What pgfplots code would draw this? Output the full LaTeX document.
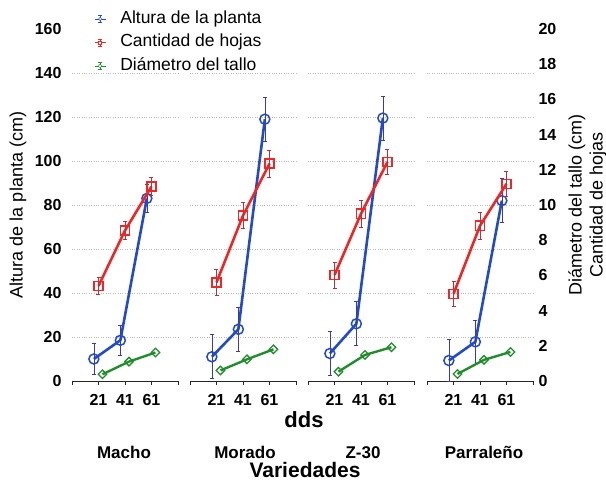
\documentclass[border=0pt]{standalone}
\usepackage{fontspec}
\setmainfont{Liberation Sans}
\usepackage{pgfplots}
\pgfplotsset{compat=1.18}
\definecolor{cblue}{RGB}{35,75,200}
\definecolor{cbluee}{RGB}{60,60,160}
\definecolor{cred}{RGB}{238,38,38}
\definecolor{crede}{RGB}{185,45,60}
\definecolor{cgreen}{RGB}{35,140,45}
\pgfplotsset{
  panel/.style={scale only axis, width=106pt, height=352pt, xmin=1, xmax=81,
    anchor=south west, clip=false,
    /pgf/number format/assume math mode=true},
  leftscale/.style={panel, ymin=0, ymax=160,
    axis x line*=bottom, axis y line*=left,
    y axis line style={draw=none},
    x axis line style={line width=0.8pt, black!85},
    xtick={1,21,41,61,81}, xticklabels={,21,41,61,},
    ytick={0,20,...,160}, minor ytick={20,40,...,140},
    yminorgrids, minor grid style={gray!55, dotted, line width=0.6pt},
    ytick style={draw=none}, minor tick length=0pt,
    xtick style={black!85, line width=0.8pt}, major tick length=4pt, tick align=outside,
    ticklabel style={font=\bfseries\fontsize{16}{16}\selectfont},
    xticklabel style={yshift=-6pt},
    yticklabels={}},
  rightscale/.style={panel, ymin=0, ymax=20, hide axis},
  bluep/.style={color=cblue, line width=2.6pt, mark=o, mark size=5pt,
    mark options={line width=1.5pt, fill=white, solid},
    error bars/.cd, y dir=both, y explicit,
    error bar style={line width=0.6pt, color=cbluee},
    error mark options={rotate=90, line width=0.6pt, mark size=2pt, color=cbluee}},
  redp/.style={color=cred, line width=2.6pt, mark=square, mark size=4.6pt,
    mark options={line width=1.5pt, fill=white, solid},
    error bars/.cd, y dir=both, y explicit,
    error bar style={line width=0.6pt, color=crede},
    error mark options={rotate=90, line width=0.6pt, mark size=2pt, color=crede}},
  greenp/.style={color=cgreen, line width=2.4pt, mark=square, mark size=3pt,
    mark options={line width=1.3pt, fill=white, solid, rotate=45}},
  legblue/.style={legend image code/.code={
    \node[inner sep=0pt, minimum size=0pt] at (24pt,0pt) {};
    \draw[line width=0.7pt,cblue] (0pt,0pt) -- (11pt,0pt);
    \draw[line width=0.5pt,cblue] (5.5pt,-3.5pt) -- (5.5pt,3.5pt) (3.5pt,3.5pt) -- (7.5pt,3.5pt) (3.5pt,-3.5pt) -- (7.5pt,-3.5pt);
    \draw[line width=0.5pt,cblue,fill=white] (5.5pt,0pt) circle (1.7pt);}},
  legred/.style={legend image code/.code={
    \node[inner sep=0pt, minimum size=0pt] at (24pt,0pt) {};
    \draw[line width=0.7pt,cred] (0pt,0pt) -- (11pt,0pt);
    \draw[line width=0.5pt,cred] (5.5pt,-3.5pt) -- (5.5pt,3.5pt) (3.5pt,3.5pt) -- (7.5pt,3.5pt) (3.5pt,-3.5pt) -- (7.5pt,-3.5pt);
    \draw[line width=0.5pt,cred,fill=white] (4pt,-1.5pt) rectangle (7pt,1.5pt);}},
  leggreen/.style={legend image code/.code={
    \node[inner sep=0pt, minimum size=0pt] at (24pt,0pt) {};
    \draw[line width=0.7pt,cgreen] (0pt,0pt) -- (11pt,0pt);
    \draw[line width=0.5pt,cgreen] (5.5pt,-3.5pt) -- (5.5pt,3.5pt) (3.5pt,3.5pt) -- (7.5pt,3.5pt) (3.5pt,-3.5pt) -- (7.5pt,-3.5pt);
    \draw[line width=0.5pt,cgreen,fill=white] (5.5pt,-1.8pt) -- (7.3pt,0pt) -- (5.5pt,1.8pt) -- (3.7pt,0pt) -- cycle;}},
}
\begin{document}
\begin{tikzpicture}
\path[use as bounding box] (0,0) rectangle (606pt,481pt);
% ---------- Panel 1: Macho
\begin{axis}[leftscale, at={(72pt,100pt)}, yticklabels={0,20,40,60,80,100,120,140,160},
  yticklabel style={xshift=-3pt},
  ylabel={Altura de la planta (cm)},
  ylabel style={at={(axis description cs:-0.51,0.5)}, anchor=center, font=\fontsize{18}{18}\selectfont},
  legend style={draw=none, fill=none, at={(axis description cs:0.18,1.061)}, anchor=north west,
    font=\fontsize{17.5}{17.5}\selectfont, row sep=5pt, cells={anchor=west},
    nodes={inner sep=1.5pt, text height=12pt, text depth=3.5pt}}]
\addlegendimage{legblue}
\addlegendentry{Altura de la planta}
\addlegendimage{legred}
\addlegendentry{Cantidad de hojas}
\addlegendimage{leggreen}
\addlegendentry{Diámetro del tallo}
\addplot[forget plot, bluep] coordinates {(17.5,10) +- (0,7) (37.5,18.5) +- (0,7) (57.5,83) +- (0,6.5)};
\end{axis}
\begin{axis}[rightscale, at={(72pt,100pt)}]
\addplot[greenp] coordinates {(24,0.38) (44,1.1) (64,1.62)};
\addplot[redp] coordinates {(21,5.4) +- (0,0.5) (41,8.55) +- (0,0.5) (61,11.05) +- (0,0.5)};
\end{axis}
% ---------- Panel 2: Morado
\begin{axis}[leftscale, at={(190pt,100pt)}]
\addplot[bluep] coordinates {(17.5,11) +- (0,10) (37.5,23.5) +- (0,10) (57.5,119) +- (0,10)};
\end{axis}
\begin{axis}[rightscale, at={(190pt,100pt)}]
\addplot[greenp] coordinates {(24,0.6) (44,1.23) (64,1.8)};
\addplot[redp] coordinates {(21,5.6) +- (0,0.75) (41,9.4) +- (0,0.75) (61,12.35) +- (0,0.75)};
\end{axis}
% ---------- Panel 3: Z-30
\begin{axis}[leftscale, at={(308pt,100pt)}]
\addplot[bluep] coordinates {(17.5,12.5) +- (0,10) (37.5,26) +- (0,10) (57.5,119.5) +- (0,10)};
\end{axis}
\begin{axis}[rightscale, at={(308pt,100pt)}]
\addplot[greenp] coordinates {(24,0.53) (44,1.48) (64,1.92)};
\addplot[redp] coordinates {(21,6.02) +- (0,0.75) (41,9.5) +- (0,0.75) (61,12.45) +- (0,0.7)};
\end{axis}
% ---------- Panel 4: Parraleño
\begin{axis}[leftscale, at={(427pt,100pt)}]
\addplot[bluep] coordinates {(17.5,9.3) +- (0,9.5) (37.5,17.8) +- (0,10) (57.5,82) +- (0,10)};
\end{axis}
\begin{axis}[panel, at={(427pt,100pt)}, ymin=0, ymax=20,
  axis x line=none, axis y line*=right, y axis line style={draw=none},
  ytick={0,2,...,20}, ytick style={draw=none},
  yticklabel style={font=\bfseries\fontsize{16}{16}\selectfont, xshift=2pt},
  ylabel={Diámetro del tallo (cm)\\Cantidad de hojas},
  ylabel style={at={(axis description cs:1.514,0.5)}, anchor=center, align=center,
    font=\fontsize{18}{21}\selectfont}]
\addplot[greenp] coordinates {(24,0.4) (44,1.2) (64,1.65)};
\addplot[redp] coordinates {(21,4.95) +- (0,0.72) (41,8.82) +- (0,0.75) (61,11.2) +- (0,0.7)};
\end{axis}
% ---------- texts
\node[font=\bfseries\fontsize{22}{22}\selectfont, anchor=base] at (304pt,53pt) {dds};
\node[font=\bfseries\fontsize{17}{17}\selectfont, anchor=base] at (124pt,22pt) {Macho};
\node[font=\bfseries\fontsize{17}{17}\selectfont, anchor=base] at (245pt,22pt) {Morado};
\node[font=\bfseries\fontsize{17}{17}\selectfont, anchor=base] at (363pt,22pt) {Z-30};
\node[font=\bfseries\fontsize{17}{17}\selectfont, anchor=base] at (484pt,22pt) {Parraleño};
\node[font=\bfseries\fontsize{21}{21}\selectfont, anchor=base] at (305pt,3.5pt) {Variedades};
\end{tikzpicture}
\end{document}
